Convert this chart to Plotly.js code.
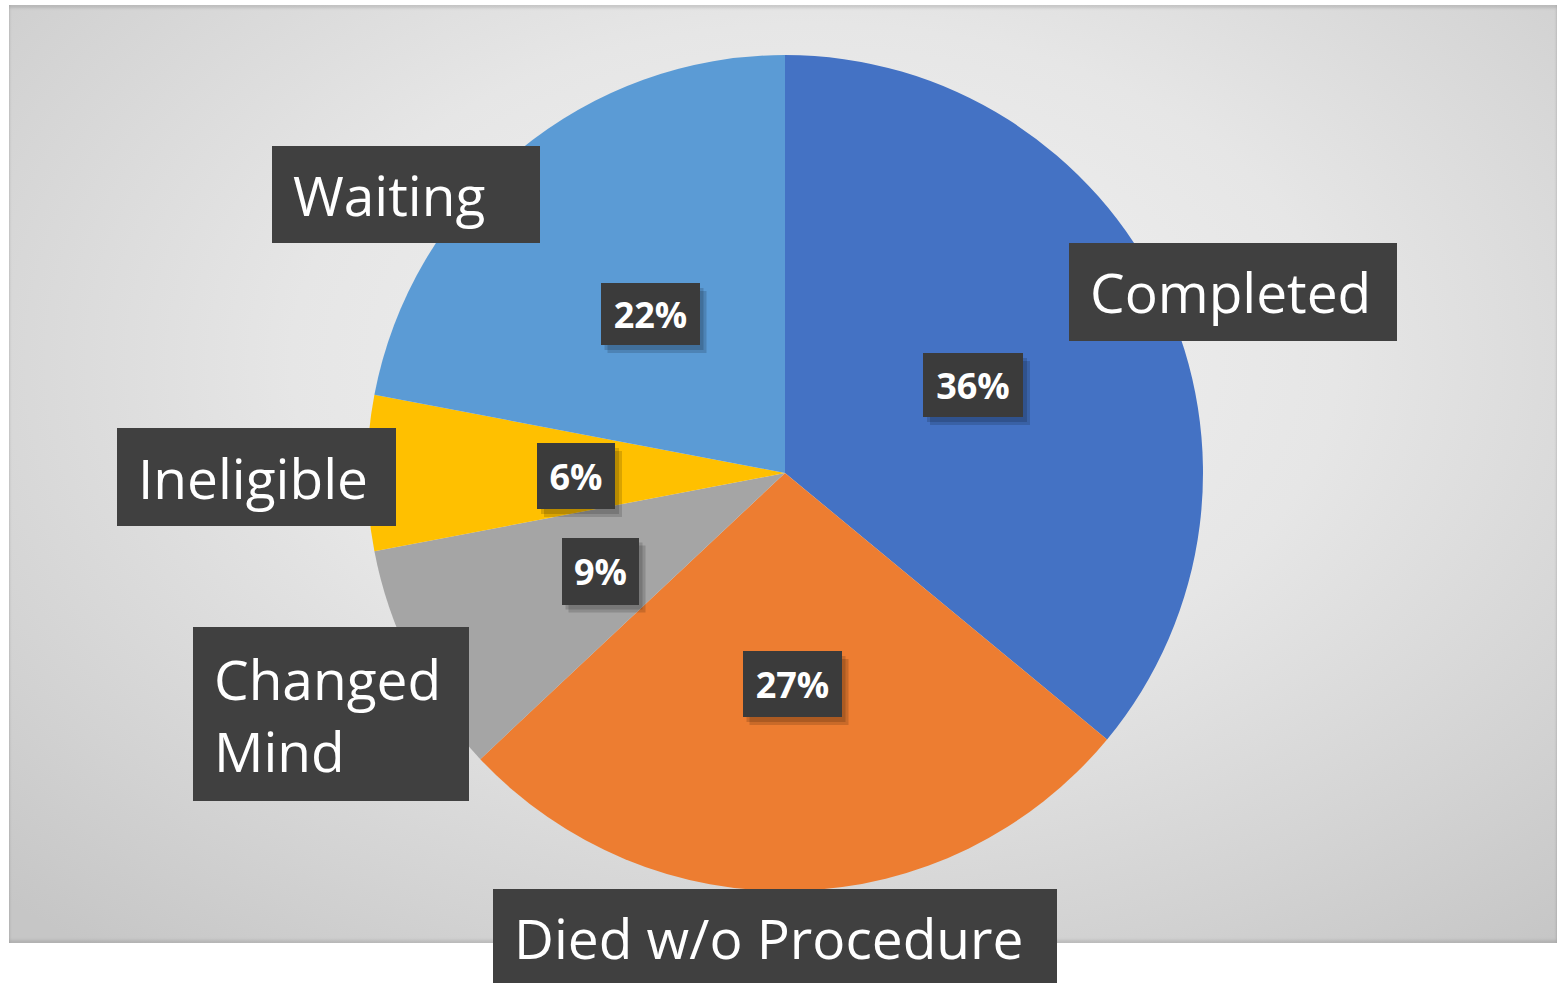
<!DOCTYPE html>
<html>
<head>
<meta charset="utf-8">
<script src="https://cdn.plot.ly/plotly-3.0.1.min.js"></script>
<style>
  html, body { margin: 0; padding: 0; background: #ffffff; width: 1557px; height: 983px; overflow: hidden; }
  #bg { position: absolute; left: 9px; top: 5px; width: 1548px; height: 938px;
        background: radial-gradient(ellipse 75% 80% at 52% 38%, #f3f3f3 0%, #e6e6e6 45%, #d2d2d2 80%, #c6c6c6 100%);
        box-shadow: inset 0 3px 3px rgba(0,0,0,0.12), inset 0 -3px 3px rgba(0,0,0,0.10); }
  #chart { position: absolute; left: 0; top: 0; width: 1557px; height: 983px; }
</style>
</head>
<body>
<div id="bg"></div>
<div id="chart"></div>
<script>
// ---- data ----
const categories = ['Completed', 'Died w/o Procedure', 'Changed Mind', 'Ineligible', 'Waiting'];
const values = [36, 27, 9, 6, 22];
const labelTexts = ['Completed', 'Died w/o Procedure', 'Changed<br>Mind', 'Ineligible', 'Waiting'];

// ---- styles / layout ----
const sliceColors = ['#4472C4', '#ED7D31', '#A5A5A5', '#FFC000', '#5B9BD5'];
const W = 1557, H = 983;
// category label boxes: [centerX, centerY, width, height] in px
const labelBoxes = [
  [1233, 292, 328, 98],
  [775, 937, 564, 96],
  [331, 714, 276, 174],
  [256.5, 477, 279, 98],
  [406, 194.5, 268, 97]
];
// percentage boxes: [centerX, centerY, width, height] in px
const pctBoxes = [
  [973, 385, 100, 64],
  [792, 684, 99, 66],
  [600, 571, 77, 67],
  [576, 476, 78, 66],
  [650, 314, 99, 62]
];
// pie placement in px
const pieCx = 785, pieCy = 473, pieR = 418;
const labelPad = 21;

const px = x => x / W;
const py = y => 1 - y / H;
const total = values.reduce((a, b) => a + b, 0);

const annotations = [];
const shapes = [];

categories.forEach((c, i) => {
  const [cx, cy, w, h] = labelBoxes[i];
  shapes.push({
    type: 'rect', xref: 'paper', yref: 'paper', layer: 'above',
    x0: px(cx - w / 2), x1: px(cx + w / 2),
    y0: py(cy + h / 2), y1: py(cy - h / 2),
    fillcolor: '#404040', line: { width: 0 }
  });
  annotations.push({
    xref: 'paper', yref: 'paper', x: px(cx - w / 2 + labelPad), y: py(cy),
    xanchor: 'left', yanchor: 'middle', showarrow: false,
    text: labelTexts[i],
    font: { family: 'Open Sans, sans-serif', size: 55, color: '#ffffff' },
    borderwidth: 0, borderpad: 0,
    align: 'left'
  });
  const [qx, qy, qw, qh] = pctBoxes[i];
  shapes.push({
    type: 'rect', xref: 'paper', yref: 'paper', layer: 'above',
    x0: px(qx - qw / 2 + 7), x1: px(qx + qw / 2 + 7),
    y0: py(qy - qh / 2 + 8), y1: py(qy + qh / 2 + 8),
    fillcolor: 'rgba(0,0,0,0.15)', line: { width: 0 }
  });
  shapes.push({
    type: 'rect', xref: 'paper', yref: 'paper', layer: 'above',
    x0: px(qx - qw / 2 + 4), x1: px(qx + qw / 2 + 4),
    y0: py(qy - qh / 2 + 5), y1: py(qy + qh / 2 + 5),
    fillcolor: 'rgba(0,0,0,0.15)', line: { width: 0 }
  });
  annotations.push({
    xref: 'paper', yref: 'paper', x: px(qx), y: py(qy),
    xanchor: 'center', yanchor: 'middle', showarrow: false,
    text: '<b>' + Math.round(values[i] / total * 100) + '%</b>',
    font: { family: 'Open Sans, sans-serif', size: 36, color: '#ffffff' },
    bgcolor: '#3b3b3b', borderwidth: 0, borderpad: 0,
    width: qw, height: qh, align: 'center', valign: 'middle'
  });
});

const trace = {
  type: 'pie',
  labels: categories,
  values: values,
  sort: false,
  direction: 'clockwise',
  rotation: 0,
  textinfo: 'none',
  hoverinfo: 'label+percent',
  marker: { colors: sliceColors, line: { width: 0 } },
  domain: {
    x: [px(pieCx - pieR), px(pieCx + pieR)],
    y: [py(pieCy + pieR), py(pieCy - pieR)]
  },
  showlegend: false
};

const layout = {
  width: W, height: H,
  margin: { l: 0, r: 0, t: 0, b: 0 },
  paper_bgcolor: 'rgba(0,0,0,0)',
  plot_bgcolor: 'rgba(0,0,0,0)',
  showlegend: false,
  annotations: annotations,
  shapes: shapes
};

Plotly.newPlot('chart', [trace], layout, { displayModeBar: false, staticPlot: true });
</script>
</body>
</html>
